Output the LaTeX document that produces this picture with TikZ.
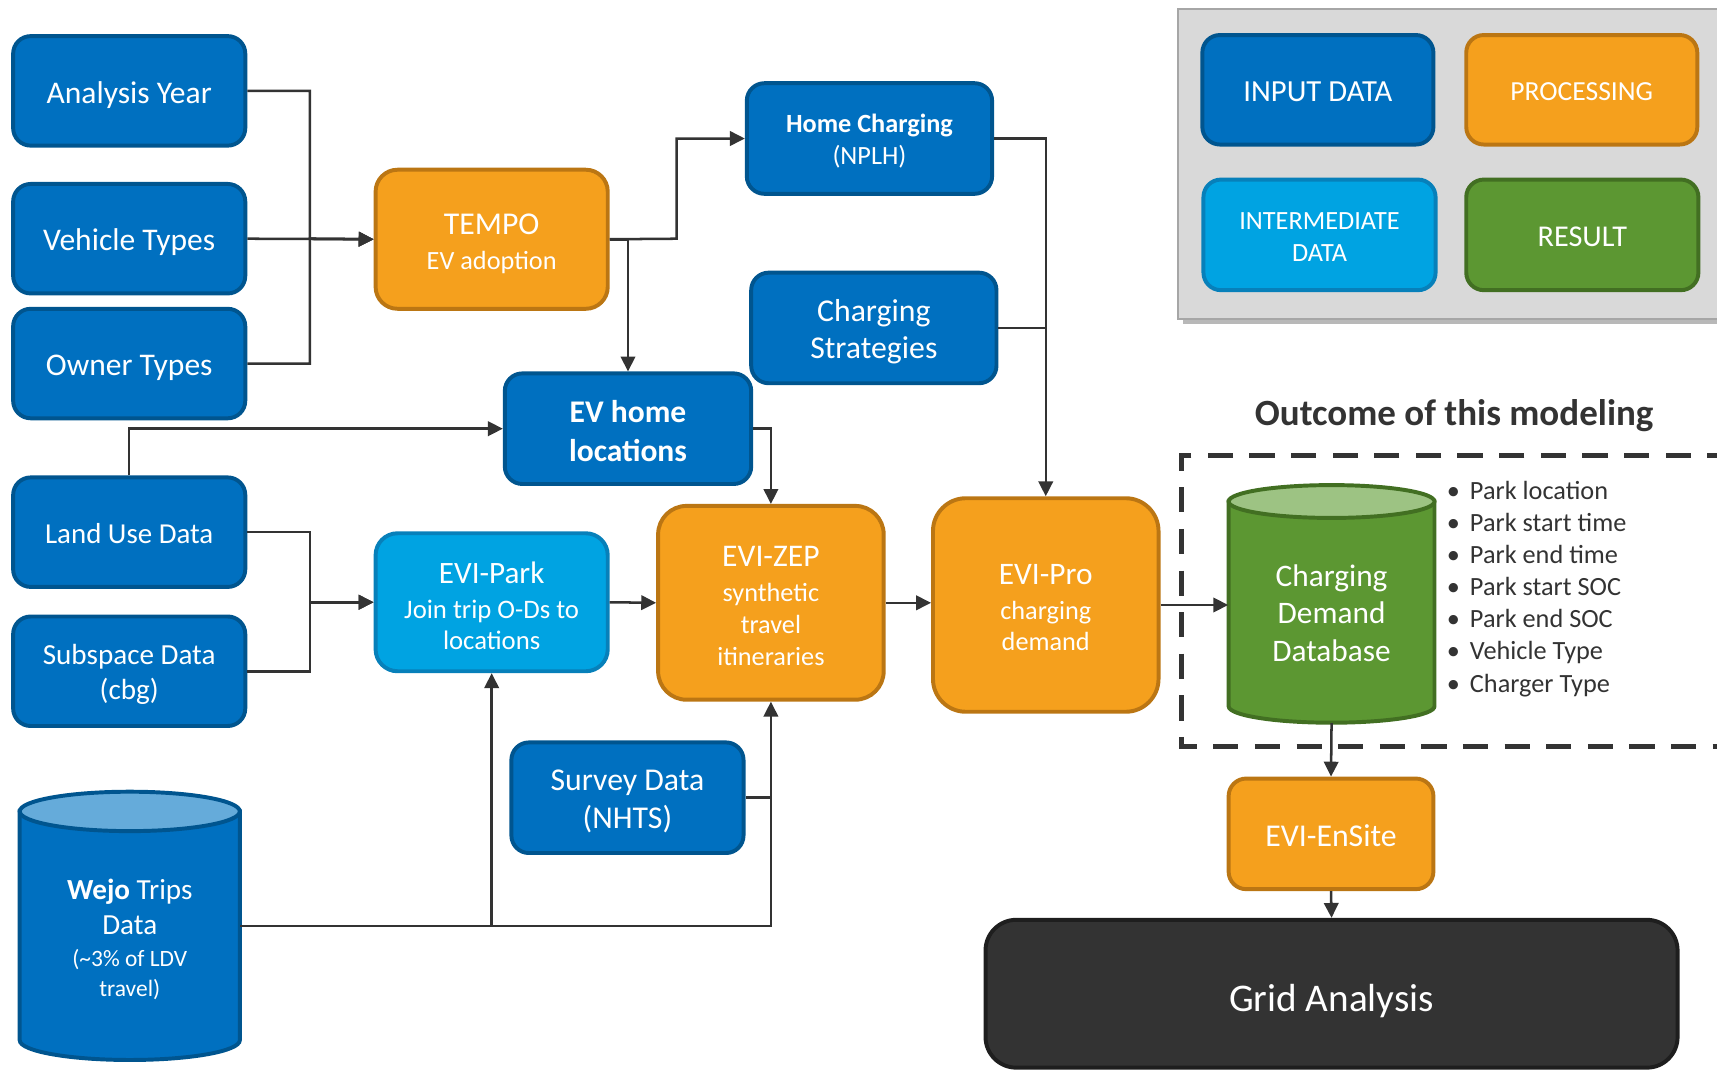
\documentclass[tikz,border=0pt]{standalone}
\usepackage{fontspec}
\setmainfont{Carlito}
\usetikzlibrary{arrows.meta}
\definecolor{inF}{HTML}{0070C0}
\definecolor{inD}{HTML}{00558F}
\definecolor{prF}{HTML}{F5A01D}
\definecolor{prD}{HTML}{BB7613}
\definecolor{imF}{HTML}{00A3E2}
\definecolor{imD}{HTML}{0780BA}
\definecolor{reF}{HTML}{5C9732}
\definecolor{reD}{HTML}{426F22}
\definecolor{reT}{HTML}{9DC383}
\definecolor{inT}{HTML}{65ABDA}
\definecolor{grF}{HTML}{333333}
\definecolor{grD}{HTML}{1E1E1E}
\definecolor{lineC}{HTML}{333333}
\definecolor{txtC}{HTML}{333333}
\definecolor{legF}{HTML}{D9D9D9}
\definecolor{legD}{HTML}{A6A6A6}
\newcommand\myfs[2]{\fontsize{#1}{#2}\selectfont}
\newcommand\stt[1]{\rule{0pt}{#1em}}
\begin{document}
\begin{tikzpicture}[x=0.5pt,y=0.5pt,
  box/.style={rounded corners=8pt, line width=1.8pt, text=white, align=center, inner sep=0pt},
  inbox/.style={box, fill=inF, draw=inD},
  prbox/.style={box, fill=prF, draw=prD},
  imbox/.style={box, fill=imF, draw=imD},
  rebox/.style={box, fill=reF, draw=reD},
  conn/.style={draw=lineC, line width=1.15pt},
  arr/.style={conn, -{Triangle[length=6.8pt,width=6.6pt]}},
  dashbox/.style={draw=txtC, line width=2.4pt, dash pattern=on 11.5pt off 7.5pt},
  bul/.style={anchor=base west, text=txtC, inner sep=0pt, font=\myfs{12}{14}},
]
\useasboundingbox (0,0) rectangle (1568,-977);

% legend
\fill[black!28] (1080,-12) rectangle (1575,-296);
\draw[fill=legF, draw=legD, line width=1pt] (1076,-8) rectangle (1580,-291);
\node[inbox, minimum width=105.5pt, minimum height=50pt, font=\myfs{14}{16}] (LIN) at (1203.5,-82) {\stt{0.8}INPUT DATA};
\node[prbox, minimum width=105.5pt, minimum height=50pt, font=\myfs{12.6}{15}] (LPR) at (1444.5,-82) {\stt{0.75}PROCESSING};
\node[imbox, minimum width=106pt, minimum height=50.5pt, font=\myfs{12}{14.5}] (LIM) at (1205,-214.5) {\stt{0.8}INTERMEDIATE\\DATA};
\node[rebox, minimum width=106pt, minimum height=50.5pt, font=\myfs{13.8}{16}] (LRE) at (1445,-214.5) {\stt{0.75}RESULT};

% input boxes
\node[inbox, minimum width=106pt, minimum height=50pt, font=\myfs{14.4}{17}] (AY) at (118,-83) {\stt{0.95}Analysis Year};
\node[inbox, minimum width=106pt, minimum height=50pt, font=\myfs{14.4}{17}] (VT) at (118,-218) {\stt{0.9}Vehicle Types};
\node[inbox, minimum width=106pt, minimum height=50pt, font=\myfs{14.4}{17}] (OT) at (118,-332) {\stt{0.95}Owner Types};
\node[inbox, minimum width=106pt, minimum height=50pt, font=\myfs{13.2}{16}] (LU) at (118,-486) {\stt{0.78}Land Use Data};
\node[inbox, minimum width=106pt, minimum height=50pt, font=\myfs{13.3}{16}] (SS) at (118,-613) {\stt{0.92}Subspace Data\\(cbg)};

\node[prbox, rounded corners=10pt, minimum width=106pt, minimum height=63.5pt, font=\myfs{12}{16}] (TEMPO) at (449,-218.5) {{\myfs{14.5}{16}\stt{0.95}TEMPO}\\EV adoption};
\node[inbox, minimum width=112pt, minimum height=50.5pt, font=\myfs{12}{14.5}] (HC) at (794,-126.5) {{\bfseries\stt{0.88}Home Charging}\\(NPLH)};
\node[inbox, minimum width=112pt, minimum height=50.5pt, font=\myfs{14.5}{17}] (CS) at (798,-299.5) {\stt{0.92}Charging\\Strategies};
\node[inbox, minimum width=112.5pt, minimum height=50.5pt, font=\myfs{14.4}{17.5}\bfseries] (EVH) at (573.5,-391.5) {\stt{0.85}EV home\\locations};
\node[imbox, rounded corners=10pt, minimum width=106pt, minimum height=63pt, font=\myfs{12.2}{14.5}] (PARK) at (449,-550) {{\myfs{14.2}{14.5}\stt{0.92}EVI-Park}\\[1.5pt]Join trip O-Ds to\\locations};
\node[prbox, rounded corners=13pt, minimum width=103pt, minimum height=88.5pt, font=\myfs{12}{14.5}] (ZEP) at (704,-550.5) {{\myfs{14.4}{14.5}\stt{0.85}EVI-ZEP}\\[1.5pt]synthetic\\travel\\itineraries};
\node[inbox, minimum width=106pt, minimum height=50.5pt, font=\myfs{14.5}{17}] (SUR) at (573,-728.5) {\stt{0.88}Survey Data\\(NHTS)};
\node[prbox, rounded corners=15pt, minimum width=103pt, minimum height=97.5pt, font=\myfs{12}{14.5}] (PRO) at (955,-552.5) {{\myfs{14.3}{14.5}\stt{0.8}EVI-Pro}\\[1.5pt]charging\\demand};
\node[prbox, minimum width=93.5pt, minimum height=50.5pt, font=\myfs{14.5}{17}] (ENS) at (1215.5,-761.5) {\stt{0.78}EVI-EnSite};
\node[box, fill=grF, draw=grD, rounded corners=14pt, minimum width=316pt, minimum height=67.5pt, font=\myfs{17.9}{20}] (GRID) at (1216,-907.5) {\stt{1.05}Grid Analysis};

% Wejo cylinder
\draw[fill=inF, draw=inD, line width=1.8pt] (18,-741) -- (18,-950) arc[start angle=180, end angle=360, x radius=50.25pt, y radius=9pt] -- (219,-741) -- cycle;
\draw[fill=inT, draw=inD, line width=1.8pt] (118.5,-741) ellipse[x radius=50.25pt, y radius=9pt];
\node[minimum width=100.5pt, minimum height=122.5pt, inner sep=0pt] (WEJO) at (118.5,-845.5) {};
\node[text=white, align=center, font=\myfs{13.3}{16}] (WEJOT) at (118.5,-858) {\textbf{Wejo} Trips\\Data\\[-1.5pt]{\myfs{10.7}{13}(\textasciitilde3\% of LDV}\\[-2pt]{\myfs{10.7}{13}travel)}};

% Charging demand cylinder
\draw[fill=reF, draw=reD, line width=1.8pt] (1122,-458) -- (1122,-645) arc[start angle=180, end angle=360, x radius=47pt, y radius=7.5pt] -- (1310,-458) -- cycle;
\draw[fill=reT, draw=reD, line width=1.8pt] (1216,-458) ellipse[x radius=47pt, y radius=7.5pt];
\node[minimum width=94pt, minimum height=108.5pt, inner sep=0pt] (CDB) at (1216,-551.5) {};
\node[text=white, align=center, font=\myfs{14.3}{17.3}] (CDBT) at (1216,-560) {Charging\\Demand\\Database};

% outcome
\node[text=txtC, font=\myfs{16.9}{19}\bfseries] (OUT) at (1328,-380) {Outcome of this modeling};
\draw[dashbox] (1582,-416) -- (1079,-416) -- (1079,-682) -- (1582,-682);
\node[bul] (b1) at (1321,-456) {\makebox[10.5pt][l]{•}Park location};
\node[bul] (b2) at (1321,-485) {\makebox[10.5pt][l]{•}Park start time};
\node[bul] (b3) at (1321,-514.5) {\makebox[10.5pt][l]{•}Park end time};
\node[bul] (b4) at (1321,-544) {\makebox[10.5pt][l]{•}Park start SOC};
\node[bul] (b5) at (1321,-573) {\makebox[10.5pt][l]{•}Park end SOC};
\node[bul] (b6) at (1321,-602) {\makebox[10.5pt][l]{•}Vehicle Type};
\node[bul] (b7) at (1321,-632) {\makebox[10.5pt][l]{•}Charger Type};

% connectors
\coordinate (j1) at (283,-218);
\coordinate (j2) at (618,-218);
\coordinate (j3) at (283,-550);
\draw[arr] (AY.east) -| (j1) -- (TEMPO.west);
\draw[arr] (OT.east) -| (j1) -- (TEMPO.west);
\draw[arr] (VT.east) -- (TEMPO.west);
\draw[arr] (TEMPO.east) -- (j2) |- (HC.west);
\draw[arr] (TEMPO.east) -| (EVH.north);
\draw[arr] (HC.east) -| (PRO.north);
\draw[conn] (CS.east) -- (CS.east -| PRO.north);
\draw[arr] (LU.north) |- (EVH.west);
\draw[arr] (EVH.east) -| (ZEP.north);
\draw[arr] (LU.east) -| (j3) -- (PARK.west);
\draw[arr] (SS.east) -| (j3) -- (PARK.west);
\draw[arr] (PARK.east) -- (ZEP.west);
\draw[arr] (ZEP.east) -- (ZEP.east -| PRO.west);
\draw[arr] (PRO.east) -- (PRO.east -| CDB.west);
\draw[arr] (WEJO.east) -| (PARK.south);
\draw[arr] (WEJO.east) -| (ZEP.south);
\draw[conn] (SUR.east) -- (SUR.east -| ZEP.south);
\draw[arr] (CDB.south) -- (ENS.north);
\draw[arr] (ENS.south) -- (GRID.north);
\end{tikzpicture}
\end{document}
